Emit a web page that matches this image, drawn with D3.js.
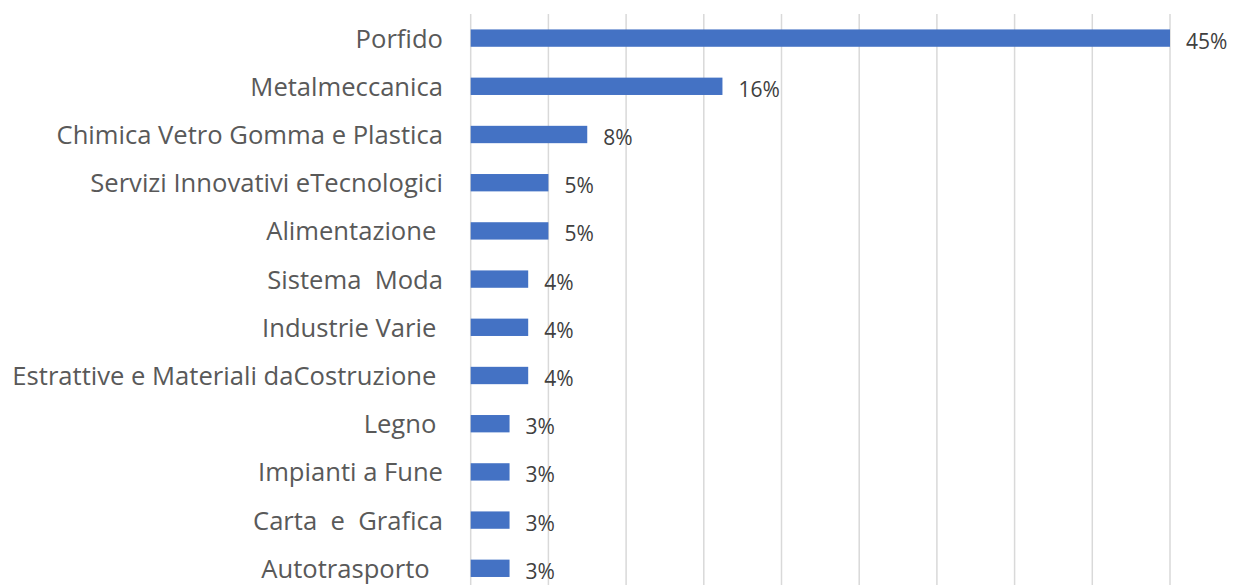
<!DOCTYPE html>
<html>
<head>
<meta charset="utf-8">
<script src="https://cdn.jsdelivr.net/npm/d3@7"></script>
<style>
  body { margin: 0; background: #fff; }
  svg text { white-space: pre; }
</style>
</head>
<body>
<svg id="chart" width="1237" height="585"></svg>
<script>
/* =========================
   DATA
========================= */
const categories = [
  "Porfido",
  "Metalmeccanica",
  "Chimica Vetro Gomma e Plastica",
  "Servizi Innovativi eTecnologici",
  "Alimentazione ",
  "Sistema  Moda",
  "Industrie Varie ",
  "Estrattive e Materiali daCostruzione ",
  "Legno ",
  "Impianti a Fune",
  "Carta  e  Grafica",
  "Autotrasporto  "
];
const values = [45, 16.2, 7.5, 5, 5, 3.7, 3.7, 3.7, 2.5, 2.5, 2.5, 2.5];
const valueLabels = ["45%", "16%", "8%", "5%", "5%", "4%", "4%", "4%", "3%", "3%", "3%", "3%"];
const ticks = [0, 5, 10, 15, 20, 25, 30, 35, 40, 45];

/* =========================
   SETUP
========================= */
const svg = d3.select("#chart");
const plotLeft = 470.7, plotRight = 1170, plotTop = 14, step = 48.2;
const font = "'Open Sans', 'Noto Sans', sans-serif";

const x = d3.scaleLinear().domain([0, 45]).range([plotLeft, plotRight]);
const y = d3
  .scaleBand()
  .domain(categories)
  .range([plotTop, plotTop + step * categories.length])
  .paddingInner(0.64)
  .paddingOuter(0.32);

/* ===== GRID ===== */
svg
  .append("g")
  .selectAll("line")
  .data(ticks)
  .enter()
  .append("line")
  .attr("x1", (d) => x(d))
  .attr("x2", (d) => x(d))
  .attr("y1", plotTop)
  .attr("y2", 585)
  .attr("stroke", "#d9d9d9")
  .attr("stroke-width", 1.5);

/* ===== BARS ===== */
svg
  .append("g")
  .selectAll("rect")
  .data(values)
  .enter()
  .append("rect")
  .attr("x", x(0))
  .attr("y", (d, i) => y(categories[i]))
  .attr("width", (d) => x(d) - x(0))
  .attr("height", y.bandwidth())
  .attr("fill", "#4472c4");

/* ===== VALUE LABELS ===== */
svg
  .append("g")
  .selectAll("text")
  .data(values)
  .enter()
  .append("text")
  .attr("x", (d) => x(d) + 16)
  .attr("y", (d, i) => y(categories[i]) + y.bandwidth() / 2 + 10.5)
  .attr("font-family", font)
  .attr("font-size", 21)
  .attr("fill", "#404040")
  .text((d, i) => valueLabels[i]);

/* ===== CATEGORY LABELS ===== */
svg
  .append("g")
  .selectAll("text")
  .data(categories)
  .enter()
  .append("text")
  .attr("x", 443)
  .attr("y", (d) => y(d) + y.bandwidth() / 2 + 9.5)
  .attr("text-anchor", "end")
  .attr("font-family", font)
  .attr("font-size", 25.6)
  .attr("fill", "#595959")
  .text((d) => d);
</script>
</body>
</html>
